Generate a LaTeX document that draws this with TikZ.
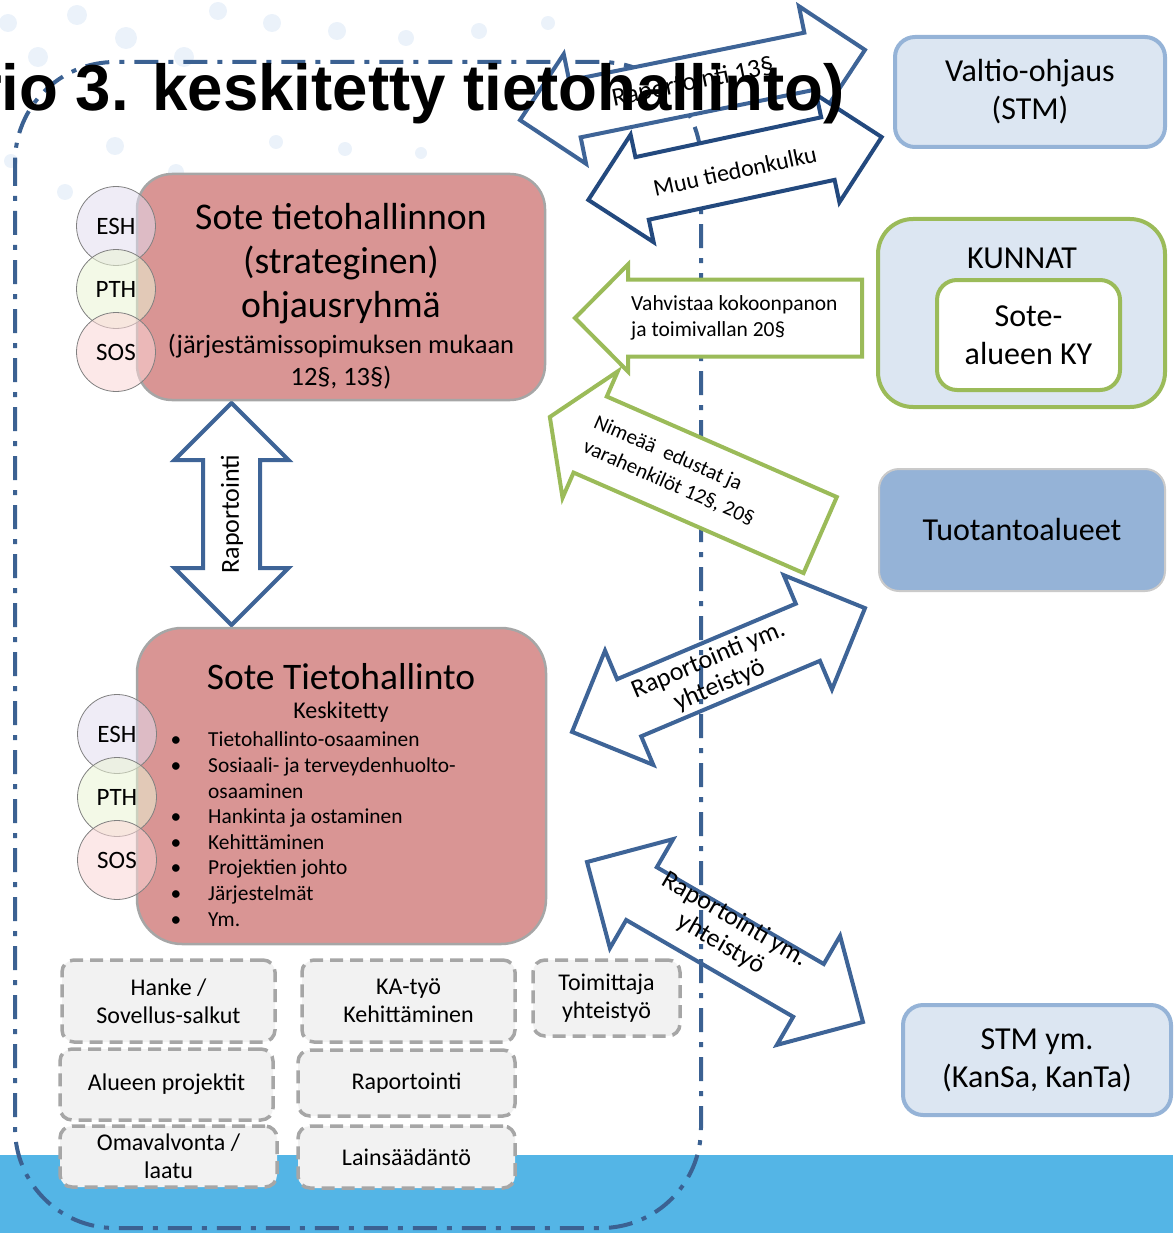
\documentclass[tikz,border=0pt]{standalone}
\usepackage{fontspec}
\setmainfont{Carlito}
\newfontfamily\headfont{Liberation Sans}
\usetikzlibrary{calc,positioning}
\definecolor{rose}{HTML}{D99594}
\definecolor{rosedge}{HTML}{A6A6A6}
\definecolor{paleblue}{HTML}{DCE6F2}
\definecolor{midblue}{HTML}{95B3D7}
\definecolor{leaf}{HTML}{9BBB59}
\definecolor{steel}{HTML}{3E6497}
\definecolor{deepsteel}{HTML}{23497E}
\definecolor{regionblue}{HTML}{3B6192}
\definecolor{sky}{HTML}{54B5E6}
\definecolor{dotblue}{HTML}{EBF2FA}
\definecolor{chip}{HTML}{F2F2F2}
\definecolor{chipedge}{HTML}{A6A6A6}
\definecolor{eshfill}{HTML}{E2DCEE}
\definecolor{pthfill}{HTML}{EAF4D4}
\definecolor{sosfill}{HTML}{FAD6D6}
\definecolor{ringgray}{HTML}{808080}
\tikzset{
  redbox/.style={draw=rosedge,line width=2.5pt,fill=rose,rounded corners=#1},
  redbox/.default=35pt,
  govbox/.style={draw=midblue,line width=4pt,fill=paleblue,rounded corners=20pt,align=center,font=\fontsize{32}{38}\selectfont},
  kuntabox/.style={draw=leaf,line width=4pt,fill=paleblue,rounded corners=35pt},
  kybox/.style={draw=leaf,line width=4pt,fill=white,rounded corners=20pt,align=center,font=\fontsize{32}{38}\selectfont},
  areabox/.style={draw=rosedge!60,line width=2pt,fill=midblue,rounded corners=20pt,font=\fontsize{32}{38}\selectfont},
  chipbox/.style={draw=chipedge,line width=3.5pt,dash pattern=on 13pt off 7pt,fill=chip,rounded corners=12pt,align=center,inner sep=1pt,font=\fontsize{24}{28}\selectfont},
  unit/.style={circle,draw=ringgray,line width=0.8pt,minimum size=79pt,inner sep=0pt,fill opacity=0.55,text opacity=1,font=\fontsize{25}{28}\selectfont},
  region/.style={draw=regionblue,line width=4pt,dash pattern=on 24pt off 10pt on 5pt off 10pt,rounded corners=100pt},
  blockarrow/.style={draw=steel,line width=4pt,line join=miter},
  greenarrow/.style={blockarrow,draw=leaf,fill=white},
  arrowlabel/.style={font=\fontsize{24}{28}\selectfont,align=center,inner sep=0pt},
  listtext/.style={font=\fontsize{21.4}{25}\selectfont,inner sep=0pt}
}
% block arrows: [style]{centre}{angle}{half length}{shaft half width}{head half width}
\newcommand{\dblarrow}[6][]{%
  \begin{scope}[shift={#2},rotate=#3]
    \draw[blockarrow,#1] (-#4,0) -- (-#4+#6,#6) -- (-#4+#6,#5) -- (#4-#6,#5) -- (#4-#6,#6) -- (#4,0)
      -- (#4-#6,-#6) -- (#4-#6,-#5) -- (-#4+#6,-#5) -- (-#4+#6,-#6) -- cycle;
  \end{scope}}
% [style]{centre}{angle}{half length}{shaft half width}{head half width}{head length}
\newcommand{\sglarrow}[7][]{%
  \begin{scope}[shift={#2},rotate=#3]
    \draw[greenarrow,#1] (-#4,0) -- (-#4+#7,#6) -- (-#4+#7,#5) -- (#4,#5) -- (#4,-#5) -- (-#4+#7,-#5) -- (-#4+#7,-#6) -- cycle;
  \end{scope}}

\begin{document}
\begin{tikzpicture}[x=1pt,y=-1pt]
  \useasboundingbox (0,0) rectangle (1173,1233);

  % slide background
  \foreach \dx/\dy/\dr in {8/23/9,77/15/10,126/38/11,38/57/10,184/57/10,218/11/9,272/23/9,337/31/9,406/38/8,479/31/8,548/23/7,115/146/9,176/172/8,65/192/8,276/142/7,345/149/7,421/153/6,11/161/7}
    \fill[dotblue] (\dx,\dy) circle (\dr);
  \fill[sky] (0,1155) rectangle (1173,1233);

  \draw[region] (15,62) rectangle (701,1228);

  % arrows to the state level
  \dblarrow[fill=white]{(692.5,85)}{11.5}{176}{29}{56}
  \node[arrowlabel,rotate=11.5,font=\fontsize{26}{30}\selectfont] (raport13) at (693,83) {Raportointi 13§};
  \dblarrow[draw=deepsteel,fill=white]{(735,168.5)}{12.1}{150}{32}{55}
  \node[arrowlabel,rotate=12.1] (muutieto) at (735,171) {Muu tiedonkulku};

  % arrows from the municipalities
  \sglarrow{(718.5,318)}{0}{143.5}{38.5}{53.5}{53}
  \node[arrowlabel,align=left,anchor=west,font=\fontsize{21.5}{26}\selectfont] (vahvistaa) at (631,318) {Vahvistaa kokoonpanon\\ja toimivallan 20§};
  \sglarrow{(685,476)}{-23.6}{147.5}{41.5}{69}{44}
  \node[arrowlabel,align=left,rotate=-23.6,font=\fontsize{21}{27}\selectfont] (nimeaa) at (674,471) {Nimeää\ \ edustat ja\\varahenkilöt 12§, 20§};

  \dblarrow{(718.5,670)}{22.9}{159}{31}{62}
  \node[arrowlabel,rotate=22.9,font=\fontsize{26}{28}\selectfont] (yhteis1) at (714,673) {Raportointi ym.\\yhteistyö};
  \dblarrow{(725,942)}{-30.1}{159.5}{30.5}{63}
  \node[arrowlabel,rotate=-30.1,font=\fontsize{26}{28}\selectfont] (yhteis2) at (728,932) {Raportointi ym.\\yhteistyö};

  \dblarrow[fill=white]{(231.5,514)}{90}{111}{28.5}{57}
  \node[arrowlabel,rotate=90,font=\fontsize{26}{28}\selectfont] (raportv) at (232,514) {Raportointi};

  % steering group
  \node[redbox,minimum width=408pt,minimum height=226pt] (ohjaus) at (341,287) {};
  \node[align=center,font=\fontsize{37.7}{44}\selectfont,inner sep=0pt] (ohjausnimi) at (341,264) {Sote tietohallinnon\\(strateginen)\\ohjausryhmä};
  \node[align=center,font=\fontsize{26.5}{32}\selectfont,inner sep=0pt] (ohjausperuste) at (341,362) {(järjestämissopimuksen mukaan\\12§, 13§)};
  \node[unit,fill=eshfill] (esh1) at (116,226) {ESH};
  \node[unit,fill=pthfill] (pth1) at (116,289) {PTH};
  \node[unit,fill=sosfill] (sos1) at (116,352) {SOS};

  % central ICT unit
  \node[redbox=45pt,minimum width=409pt,minimum height=316pt] (tiha) at (341.5,786) {};
  \node[font=\fontsize{37.5}{40}\selectfont,inner sep=0pt] (tihanimi) at (341,677) {Sote Tietohallinto};
  \node[font=\fontsize{24}{28}\selectfont,inner sep=0pt] (keskitetty) at (341,712) {Keskitetty};
  \foreach \yy/\txt in {739/Tietohallinto-osaaminen,765/Sosiaali- ja terveydenhuolto-,791/osaaminen,816/Hankinta ja ostaminen,842/Kehittäminen,867/Projektien johto,893/Järjestelmät,919/Ym.}
    \node[listtext,anchor=base west] (rivi\yy) at (208,\yy+7) {\txt};
  \foreach \yy in {739,765,816,842,867,893,919}
    \node[listtext,anchor=base] (luetelma\yy) at (176,\yy+7) {\textbullet};
  \node[unit,fill=eshfill] (esh2) at (117,734) {ESH};
  \node[unit,fill=pthfill] (pth2) at (117,797) {PTH};
  \node[unit,fill=sosfill] (sos2) at (117,860) {SOS};

  % tasks
  \node[chipbox,minimum width=213pt,minimum height=82pt] (hanke) at (168.5,1001) {Hanke /\\Sovellus-salkut};
  \node[chipbox,minimum width=213pt,minimum height=82pt] (katyo) at (408.5,1001) {KA-työ\\Kehittäminen};
  \node[chipbox,minimum width=147pt,minimum height=76pt] (toimittaja) at (606.5,998) {Toimittaja\\yhteistyö};
  \node[chipbox,minimum width=213pt,minimum height=71pt] (alueen) at (166.5,1084.5) {Alueen projektit};
  \node[chipbox,minimum width=217pt,minimum height=66pt] (raportointi) at (406.5,1083) {Raportointi};
  \node[chipbox,minimum width=217pt,minimum height=61pt] (omavalvonta) at (168.5,1156.5) {Omavalvonta /\\laatu};
  \node[chipbox,minimum width=217pt,minimum height=62pt] (lainsaadanto) at (406.5,1157) {Lainsäädäntö};

  % outside actors
  \node[govbox,minimum width=270pt,minimum height=110pt] (valtio) at (1030,92) {Valtio-ohjaus\\(STM)};
  \node[kuntabox,minimum width=287pt,minimum height=188pt] (kunnat) at (1021.5,313) {};
  \node[font=\fontsize{32}{36}\selectfont,inner sep=0pt] (kunnatnimi) at (1022,258) {KUNNAT};
  \node[kybox,minimum width=183pt,minimum height=110pt] (soteky) at (1028.5,335) {Sote-\\alueen KY};
  \node[areabox,minimum width=286pt,minimum height=122pt] (tuotanto) at (1022,530) {Tuotantoalueet};
  \node[govbox,minimum width=268pt,minimum height=110pt] (stmym) at (1037,1060) {STM ym.\\(KanSa, KanTa)};

  \node[anchor=base east,inner sep=0pt,xscale=0.978,font=\headfont\bfseries\fontsize{65}{70}\selectfont] (otsikko) at (845,111) {rio 3. keskitetty tietohallinto)};
\end{tikzpicture}
\end{document}
